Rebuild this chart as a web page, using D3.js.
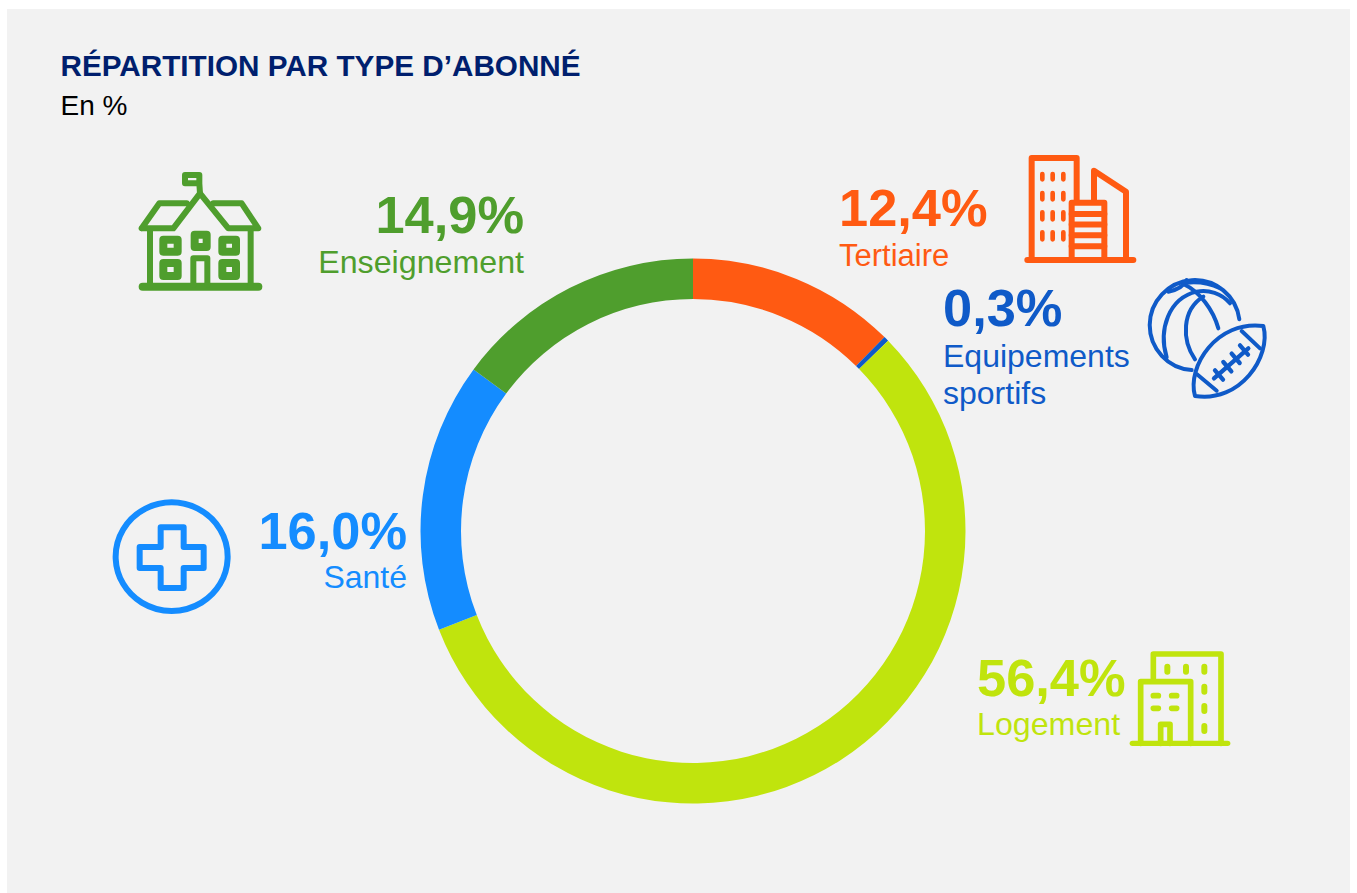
<!DOCTYPE html>
<html><head><meta charset="utf-8">
<style>html,body{margin:0;padding:0;background:#fff}svg{display:block}text{font-family:"Liberation Sans",Arial,sans-serif}</style>
<script src="https://cdn.jsdelivr.net/npm/d3@7"></script>
</head><body><svg id="c" width="1357" height="893"></svg>
<script>
const categories=["Tertiaire","Equipements sportifs","Logement","Santé","Enseignement"];
const values=[12.4,0.3,56.4,16.0,14.9];
const valueLabels=["12,4%","0,3%","56,4%","16,0%","14,9%"];
const colors=["#FF5A12","#0F5AC8","#C0E40D","#148CFF","#4F9E2D"];
const title="RÉPARTITION PAR TYPE D’ABONNÉ", subtitle="En %";

const svg=d3.select("#c");
svg.append("rect").attr("x",7).attr("y",9).attr("width",1343).attr("height",884).attr("fill","#F2F2F2");
svg.append("text").attr("x",60.5).attr("y",76).attr("font-size",29.7).attr("font-weight",700).attr("fill","#001F6E").text(title);
svg.append("text").attr("x",60.5).attr("y",115).attr("font-size",28).attr("fill","#000").text(subtitle);

const pie=d3.pie().sort(null).value(d=>d)(values);
const arc=d3.arc().innerRadius(232).outerRadius(272.5);
svg.append("g").attr("transform","translate(693,531)").selectAll("path").data(pie).join("path")
  .attr("d",arc).attr("fill",(d,i)=>colors[i]);

const layout=[
 {anchor:"start",vx:839,vy:226,lx:839,ly:[265.7],fs:31},
 {anchor:"start",vx:943,vy:326,lx:943,ly:[366.5,404],fs:32},
 {anchor:"start",vx:977,vy:695.7,lx:977,ly:[735],fs:32.2},
 {anchor:"end",vx:407,vy:549,lx:407,ly:[588],fs:32},
 {anchor:"end",vx:524,vy:232.7,lx:524,ly:[272.7],fs:32.2}
];
const labels=svg.append("g");
categories.forEach((c,i)=>{
  const p=layout[i];
  labels.append("text").attr("x",p.vx).attr("y",p.vy).attr("text-anchor",p.anchor).attr("font-size",52.4).attr("font-weight",700).attr("fill",colors[i]).text(valueLabels[i]);
  const lines=p.ly.length>1?["Equipements","sportifs"]:[c];
  lines.forEach((t,k)=>labels.append("text").attr("x",p.lx).attr("y",p.ly[k]).attr("text-anchor",p.anchor).attr("font-size",p.fs).attr("fill",colors[i]).text(t));
});

// pictograms, drawn at 3x in their own local frame
function icon(x,y,color,sw,items){
  const g=svg.append("g").attr("transform",`translate(${x},${y}) scale(${1/3})`).attr("fill","none").attr("stroke",color).attr("stroke-width",sw).attr("stroke-linecap","round").attr("stroke-linejoin","round");
  items.forEach(it=>{const s=g.append("path").attr("d",it.d||it); if(it.w)s.attr("stroke-width",it.w);});
}
icon(130,165,colors[4],18,[
 {d:"M38,365H385",w:24},
 "M60,195V365M362,195V365",
 "M35,190L88,115H170M35,190H130L210,85L295,190H385L335,115H250",
 "M165,30H208V55H165ZM208,55L210,85",
 {d:"M100,224H143V260H100Z",w:24},{d:"M100,294H143V333H100Z",w:24},
 {d:"M194,209H230V246H194Z",w:24},
 {d:"M277,224H318V260H277Z",w:24},{d:"M277,294H318V333H277Z",w:24},
 "M190,360V280H232V360"
]);
icon(1020,150,colors[0],18,[
 "M22,330H340",
 "M35,330V24H170V155",
 "M155,330V158H253V330",
 "M155,192H253M155,223.5H253M155,256H253M155,289H253",
 "M222,155V62L318,125V330",
 {d:"M67,72V88M98,72V88M130,72V88M67,129V148M98,129V148M130,129V148M67,187V208M98,187V208M130,187V208M67,247V268M98,247V268M130,247V268",w:14}
]);
icon(1140,270,colors[1],12,[
 "M298,148A135,135 0 1 0 155,300",
 "M80,262C55,180 85,85 170,65C205,58 245,70 270,100",
 "M165,268C125,210 125,120 190,80",
 "M235,175C220,120 180,65 130,42",
 "M85,65C110,60 130,50 140,30M140,38C170,35 210,40 240,55",
 "M165,378C140,290 230,150 370,168C395,260 300,400 165,378Z",
 "M305,183L360,235M170,312L230,362",
 {d:"M222,325L325,235",w:13},
 {d:"M225,301L249,329M250,276L274,304M275,251L299,279M300,226L324,254",w:13}
]);
icon(105,490,colors[3],18,[
 "M200,37A168,163 0 1 1 199.9,37Z",
 "M167,112H236V171H296V234H236V294H167V234H104V171H167Z"
]);
icon(1125,645,colors[2],17,[
 {d:"M22,295H308",w:16},
 "M85,100V27H288V295",
 "M47,295V110H197V295",
 "M107,295V238H135V295",
 {d:"M85,152H100M140,152H155M85,190H100M140,190H155",w:17},
 {d:"M127,65V80M183,65V80M238,65V80M238,125V140M238,183V198M238,243V258",w:18}
]);
</script></body></html>
